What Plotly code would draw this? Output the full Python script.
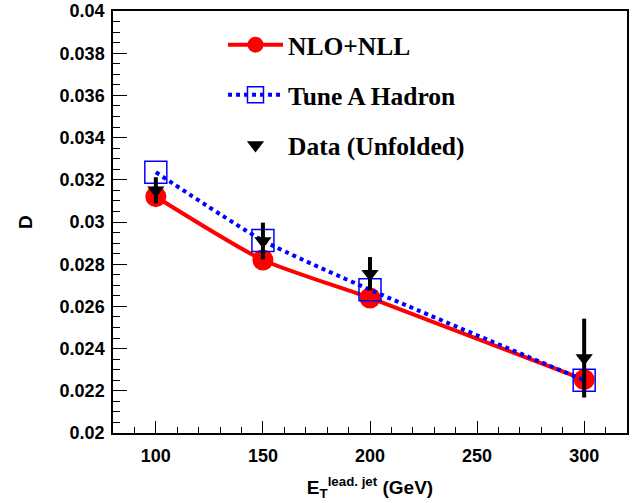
import plotly.graph_objects as go

et = [100, 150, 200, 300]
nlo_nll = [0.0312, 0.0282, 0.0264, 0.02253]
tune_a = [0.03236, 0.02912, 0.02679, 0.0225]
data_vals = [0.0315, 0.0291, 0.02755, 0.02355]
data_err = [0.00062, 0.00087, 0.00079, 0.00187]

x_ticks = [100, 150, 200, 250, 300]
y_ticks = [0.02, 0.022, 0.024, 0.026, 0.028, 0.03, 0.032, 0.034, 0.036, 0.038, 0.04]
y_ticktext = ["0.02", "0.022", "0.024", "0.026", "0.028", "0.03", "0.032", "0.034", "0.036", "0.038", "0.04"]

fig = go.Figure()
fig.add_trace(go.Scatter(
    x=et, y=nlo_nll, mode="lines+markers", name="<b>NLO+NLL</b>",
    line=dict(color="#ff0000", width=4, shape="spline", smoothing=0.6),
    marker=dict(symbol="circle", size=21, color="#ff0000"),
    legendgroup="a",
))
fig.add_trace(go.Scatter(
    x=et, y=tune_a, mode="lines+markers", name="<b>Tune A Hadron</b>",
    line=dict(color="#0000ff", width=4, dash="dot", shape="spline", smoothing=0.6),
    marker=dict(symbol="square-open", size=22, color="#0000ff", line=dict(width=1.5)),
    legendgroup="b",
))
fig.add_trace(go.Scatter(
    x=et, y=data_vals, mode="markers", name="<b>Data (Unfolded)</b>",
    marker=dict(symbol="triangle-down", size=15, color="black"),
    error_y=dict(type="data", array=data_err, visible=True, color="black", thickness=4, width=0),
    legendgroup="c",
))

axis_font = dict(family="Liberation Sans", size=18, color="black")
fig.update_layout(
    width=639, height=503,
    margin=dict(l=113, r=12, t=11, b=70),
    paper_bgcolor="white", plot_bgcolor="white",
    showlegend=True,
    legend=dict(
        x=0.214, y=0.975, xanchor="left", yanchor="top",
        bgcolor="rgba(0,0,0,0)", borderwidth=0,
        font=dict(family="Liberation Serif", size=25.5, color="black"),
        tracegroupgap=14, itemwidth=55,
    ),
    xaxis=dict(
        range=[80, 320], tickvals=x_ticks, ticktext=[f"<b>{v}</b>" for v in x_ticks],
        ticks="inside", ticklen=12, tickwidth=1, tickcolor="black",
        minor=dict(dtick=10, ticks="inside", ticklen=6, tickcolor="black"),
        showline=True, linecolor="black", linewidth=1.5, mirror=True,
        showgrid=False, zeroline=False, tickfont=axis_font, ticklabelstandoff=6,
        automargin=False,
        title=dict(text="<b>E<sub>T</sub><sup>lead. jet</sup> (GeV)</b>", font=dict(family="Liberation Sans", size=19, color="black"), standoff=15),
    ),
    yaxis=dict(
        range=[0.02, 0.04], tickvals=y_ticks, ticktext=[f"<b>{t}</b>" for t in y_ticktext],
        ticks="inside", ticklen=14, tickwidth=1, tickcolor="black",
        minor=dict(dtick=0.0005, ticks="inside", ticklen=7, tickcolor="black"),
        showline=True, linecolor="black", linewidth=1.5, mirror=True,
        showgrid=False, zeroline=False, tickfont=axis_font, ticklabelstandoff=3,
        automargin=False,
        title=dict(text="<b>D</b>", font=dict(family="Liberation Sans", size=19, color="black"), standoff=22),
    ),
)

fig.write_html("out.html", config={"displayModeBar": False},
               post_script="document.body.style.margin='0';")
